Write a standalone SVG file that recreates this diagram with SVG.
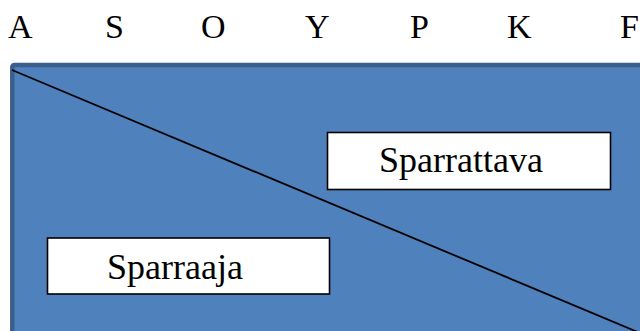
<svg xmlns="http://www.w3.org/2000/svg" width="640" height="331" viewBox="0 0 640 331">
<style>
.t{font-family:"Liberation Serif","Times New Roman",serif;font-size:34px;fill:#000}
.b{font-size:36px}
.box{fill:#fff;stroke:#000;stroke-width:1.6}
</style>
<rect width="640" height="331" fill="#fff"/>
<g id="header">
<text class="t" x="8" y="38">A</text>
<text class="t" x="105" y="38">S</text>
<text class="t" x="201" y="38">O</text>
<text class="t" x="305" y="38">Y</text>
<text class="t" x="410" y="38">P</text>
<text class="t" x="507" y="38">K</text>
<text class="t" x="620" y="38">F</text>
</g>
<g id="panel">
<rect x="12.3" y="65" width="640" height="280" rx="2" fill="#4f81bd" stroke="#3a5f8c" stroke-width="4.5"/>
</g>
<g id="connectors">
<line x1="12" y1="70" x2="640" y2="333" stroke="#000" stroke-width="1.8"/>
</g>
<g id="sparrattava">
<rect class="box" x="327.5" y="132.5" width="283" height="57"/>
<text class="t b" x="379" y="172">Sparrattava</text>
</g>
<g id="sparraaja">
<rect class="box" x="47.5" y="238" width="282" height="56"/>
<text class="t b" x="107" y="279">Sparraaja</text>
</g>
</svg>
